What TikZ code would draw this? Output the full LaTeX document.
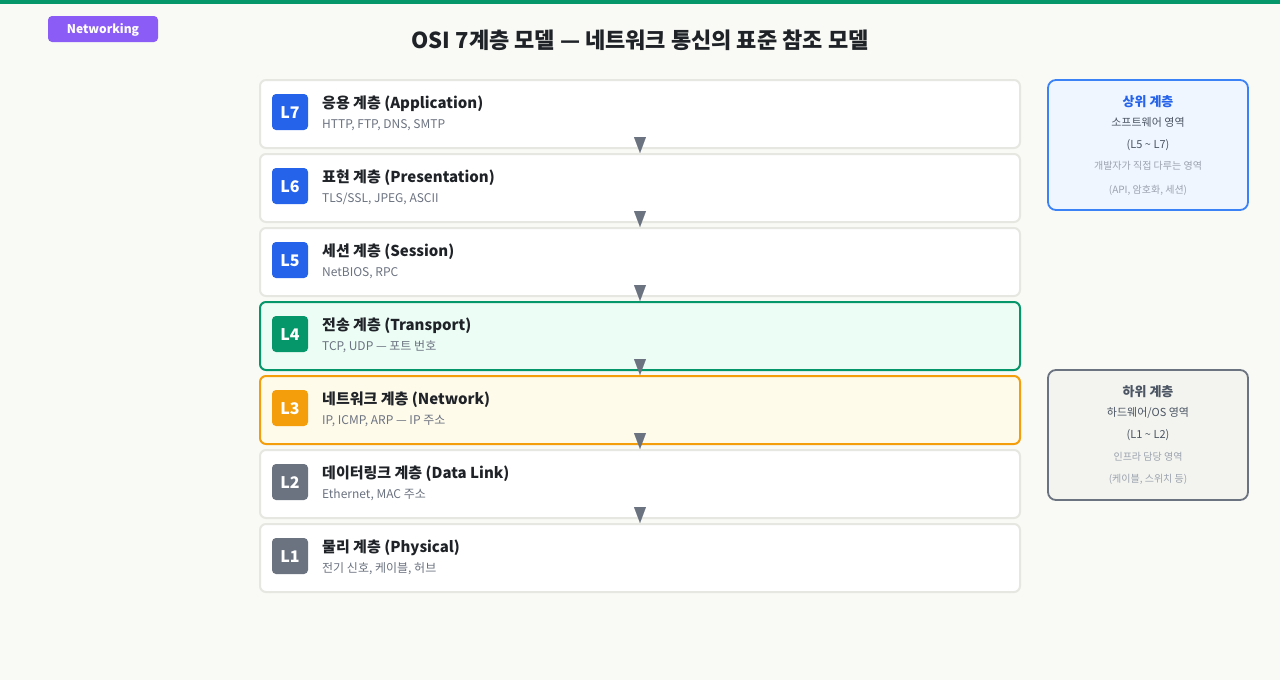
\documentclass[tikz,border=0pt]{standalone}
\usepackage{fontspec}
\setmainfont{Noto Sans CJK KR}
\usetikzlibrary{arrows.meta}
\definecolor{bgc}{HTML}{F9FAF6}
\definecolor{topbar}{HTML}{059669}
\definecolor{purp}{HTML}{8B5CF6}
\definecolor{boxline}{HTML}{E6E7E0}
\definecolor{bluec}{HTML}{2563EB}
\definecolor{greenc}{HTML}{059669}
\definecolor{amberc}{HTML}{F59E0B}
\definecolor{grayc}{HTML}{6B7280}
\definecolor{textc}{HTML}{1F2328}
\definecolor{subc}{HTML}{6B7280}
\definecolor{greenfill}{HTML}{ECFDF5}
\definecolor{amberfill}{HTML}{FFFBEB}
\definecolor{bluefill}{HTML}{EFF6FF}
\definecolor{bluebord}{HTML}{3B82F6}
\definecolor{grayfill}{HTML}{F3F4EF}
\definecolor{darkgray}{HTML}{4B5563}
\definecolor{lightgray}{HTML}{9CA3AF}
\begin{document}
\begin{tikzpicture}[x=1pt,y=-1pt,
  layerbox/.style={draw=boxline, line width=2pt, fill=white, rounded corners=6pt, minimum width=760pt, minimum height=68pt, inner sep=0pt},
  badgebox/.style={fill=#1, rounded corners=4pt, minimum width=36pt, minimum height=36pt, inner sep=0pt},
  badgetxt/.style={anchor=base, inner sep=0pt, text=white, font=\fontsize{16}{18}\selectfont\bfseries},
  ltitle/.style={anchor=base west, inner sep=0pt, text=textc, font=\fontsize{15}{18}\selectfont\bfseries},
  lsub/.style={anchor=base west, inner sep=0pt, text=subc, font=\fontsize{12}{14}\selectfont},
  arrowtip/.style={grayc, line width=0.1pt, -{Triangle[width=12pt,length=16pt]}},
  sidebox/.style={rounded corners=8pt, line width=1.8pt, minimum width=200pt, minimum height=130pt, inner sep=0pt},
  sidetxt/.style={anchor=base, inner sep=0pt},
]
\useasboundingbox (0,0) rectangle (1280,680);
\fill[bgc] (0,0) rectangle (1280,680);
\fill[topbar] (0,0) rectangle (1280,4);
\node[fill=purp, rounded corners=4pt, minimum width=110pt, minimum height=26pt, inner sep=0pt] (tag) at (103,29) {};
\node[anchor=base, inner sep=0pt, text=white, font=\fontsize{12}{14}\selectfont\bfseries] (tagtxt) at (103,33.5) {Networking};
\node[anchor=base, inner sep=0pt, text=textc, font=\fontsize{22}{26}\selectfont\bfseries] (title) at (640,48) {OSI 7계층 모델 — 네트워크 통신의 표준 참조 모델};

% layers
\node[layerbox] (L7) at (640,114) {};
\node[layerbox] (L6) at (640,188) {};
\node[layerbox] (L5) at (640,262) {};
\node[layerbox, draw=greenc, fill=greenfill] (L4) at (640,336) {};
\node[layerbox, draw=amberc, fill=amberfill] (L3) at (640,410) {};
\node[layerbox] (L2) at (640,484) {};
\node[layerbox] (L1) at (640,558) {};

\foreach \n/\y/\c in {7/112/bluec,6/186/bluec,5/260/bluec,4/334/greenc,3/408/amberc,2/482/grayc,1/556/grayc}{
  \node[badgebox=\c] (b\n) at (290,\y) {};
  \node[badgetxt] (bt\n) at (290,\y+6) {L\n};
}

\node[ltitle] (t7) at (322,108) {응용 계층 (Application)};
\node[lsub] (s7) at (322,128) {HTTP, FTP, DNS, SMTP};
\node[ltitle] (t6) at (322,182) {표현 계층 (Presentation)};
\node[lsub] (s6) at (322,202) {TLS/SSL, JPEG, ASCII};
\node[ltitle] (t5) at (322,256) {세션 계층 (Session)};
\node[lsub] (s5) at (322,276) {NetBIOS, RPC};
\node[ltitle] (t4) at (322,330) {전송 계층 (Transport)};
\node[lsub] (s4) at (322,350) {TCP, UDP — 포트 번호};
\node[ltitle] (t3) at (322,404) {네트워크 계층 (Network)};
\node[lsub] (s3) at (322,424) {IP, ICMP, ARP — IP 주소};
\node[ltitle] (t2) at (322,478) {데이터링크 계층 (Data Link)};
\node[lsub] (s2) at (322,498) {Ethernet, MAC 주소};
\node[ltitle] (t1) at (322,552) {물리 계층 (Physical)};
\node[lsub] (s1) at (322,572) {전기 신호, 케이블, 허브};

% arrows
\foreach \a/\b in {L7/L6,L6/L5,L5/L4,L4/L3,L3/L2,L2/L1}{
  \draw[arrowtip] ([yshift=10pt]\a.south) -- (\b.north);
}

% side boxes
\node[sidebox, draw=bluebord, fill=bluefill] (up) at (1148,145) {};
\node[sidetxt, text=bluec, font=\fontsize{13}{15}\selectfont\bfseries] (up1) at (1148,106) {상위 계층};
\node[sidetxt, text=darkgray, font=\fontsize{11}{13}\selectfont] (up2) at (1148,126) {소프트웨어 영역};
\node[sidetxt, text=darkgray, font=\fontsize{11}{13}\selectfont] (up3) at (1148,148) {(L5 \textasciitilde{} L7)};
\node[sidetxt, text=lightgray, font=\fontsize{10}{12}\selectfont] (up4) at (1148,169) {개발자가 직접 다루는 영역};
\node[sidetxt, text=lightgray, font=\fontsize{10}{12}\selectfont] (up5) at (1148,193) {(API, 암호화, 세션)};

\node[sidebox, draw=grayc, fill=grayfill] (lo) at (1148,435) {};
\node[sidetxt, text=darkgray, font=\fontsize{13}{15}\selectfont\bfseries] (lo1) at (1148,396) {하위 계층};
\node[sidetxt, text=darkgray, font=\fontsize{11}{13}\selectfont] (lo2) at (1148,416) {하드웨어/OS 영역};
\node[sidetxt, text=darkgray, font=\fontsize{11}{13}\selectfont] (lo3) at (1148,438) {(L1 \textasciitilde{} L2)};
\node[sidetxt, text=lightgray, font=\fontsize{10}{12}\selectfont] (lo4) at (1148,460) {인프라 담당 영역};
\node[sidetxt, text=lightgray, font=\fontsize{10}{12}\selectfont] (lo5) at (1148,482) {(케이블, 스위치 등)};
\end{tikzpicture}
\end{document}
